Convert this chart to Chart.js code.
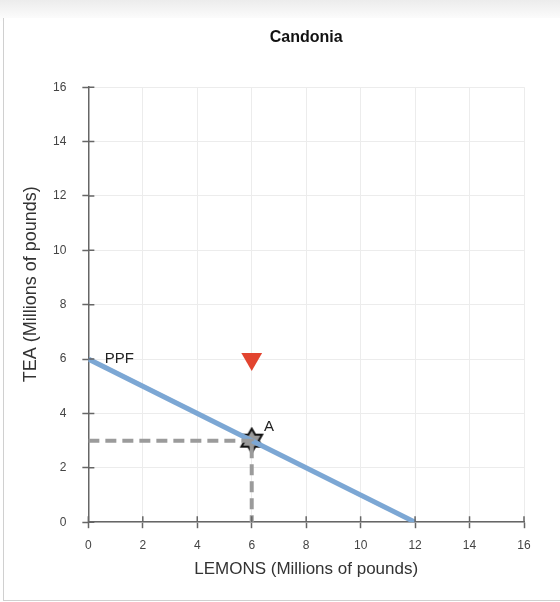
<!DOCTYPE html>
<html>
<head>
<meta charset="utf-8">
<script src="https://cdn.jsdelivr.net/npm/chart.js@4.4.1/dist/chart.umd.min.js"></script>
<style>
  body { margin: 0; background: #fff; }
  #frame {
    position: absolute; left: 0; top: 0; width: 560px; height: 602px;
    background: linear-gradient(#ececec, #fff 22px);
  }
  #card {
    position: absolute; left: 3px; top: 18px; width: 557px; height: 582px;
    background: #fff; border-left: 1px solid #d0d0d0; border-bottom: 1px solid #d0d0d0;
  }
  #wrap { position: absolute; left: 0; top: 0; width: 560px; height: 602px; }
</style>
</head>
<body>
<div id="frame"><div id="card"></div></div>
<div id="wrap"><canvas id="myChart"></canvas></div>
<script>
  const chartTitle = "Candonia"
  const xTitle = "LEMONS (Millions of pounds)"
  const yTitle = "TEA (Millions of pounds)"

  const xTicks = [0, 2, 4, 6, 8, 10, 12, 14, 16]
  const yTicks = [0, 2, 4, 6, 8, 10, 12, 14, 16]

  // production possibilities frontier
  const ppfX = [0, 12]
  const ppfY = [6, 0]

  // point A on the frontier and its guide lines
  const pointA = [6, 3]
  const guideX = [0, 6, 6]
  const guideY = [3, 3, 0]

  // red marker
  const markerPoint = [6, 6]

  const labels = [
    { text: "PPF", x: 0.6, y: 6 },
    { text: "A", x: 6.45, y: 3.5 },
  ]

  function makeStar() {
    let c = document.createElement("canvas")
    c.width = 28
    c.height = 28
    let g = c.getContext("2d")
    let cx = 14, cy = 14, R = 12, r = R / Math.sqrt(3)
    g.beginPath()
    for (let i = 0; i < 12; i++) {
      let ang = -Math.PI / 2 + i * Math.PI / 6
      let rad = i % 2 == 0 ? R : r
      let px = cx + rad * Math.cos(ang)
      let py = cy + rad * Math.sin(ang)
      if (i == 0) g.moveTo(px, py)
      else g.lineTo(px, py)
    }
    g.closePath()
    g.fillStyle = "#9a9a9a"
    g.fill()
    g.lineWidth = 2
    g.strokeStyle = "#111"
    g.stroke()
    return c
  }

  function toPoints(xs, ys) {
    let pts = []
    for (let i = 0; i < xs.length; i++) pts.push({ x: xs[i], y: ys[i] })
    return pts
  }

  const labelPlugin = {
    id: "labels",
    afterDatasetsDraw(chart) {
      let ctx = chart.ctx
      let xs = chart.scales.x
      let ys = chart.scales.y
      ctx.save()
      ctx.font = "15px Arial, 'Liberation Sans', sans-serif"
      ctx.fillStyle = "#222"
      ctx.textBaseline = "middle"
      labels.forEach(function (l) {
        ctx.fillText(l.text, xs.getPixelForValue(l.x), ys.getPixelForValue(l.y))
      })
      ctx.restore()
    },
    afterDraw(chart) {
      let ctx = chart.ctx
      let xs = chart.scales.x
      let ys = chart.scales.y
      let area = chart.chartArea
      ctx.save()
      // small tick marks on the inner side of the axes
      ctx.strokeStyle = "#666"
      ctx.lineWidth = 1.5
      ctx.beginPath()
      xTicks.forEach(function (v) {
        let px = xs.getPixelForValue(v)
        ctx.moveTo(px, area.bottom)
        ctx.lineTo(px, area.bottom - 6)
      })
      yTicks.forEach(function (v) {
        let py = ys.getPixelForValue(v)
        ctx.moveTo(area.left, py)
        ctx.lineTo(area.left + 6, py)
      })
      ctx.stroke()
      // y axis title, sits a bit above the middle of the axis
      ctx.translate(31, ys.getPixelForValue(8.75))
      ctx.rotate(-Math.PI / 2)
      ctx.font = "18px Arial, 'Liberation Sans', sans-serif"
      ctx.fillStyle = "#333"
      ctx.textAlign = "center"
      ctx.textBaseline = "middle"
      ctx.fillText(yTitle, 0, 0)
      ctx.restore()
    },
  }

  function drawChart() {
    const ctx = document.getElementById("myChart")
    const font = "Arial, 'Liberation Sans', sans-serif"

    new Chart(ctx, {
      type: "scatter",
      data: {
        datasets: [
          {
            data: toPoints(guideX, guideY),
            showLine: true,
            borderColor: "#9b9b9b",
            borderWidth: 4,
            borderDash: [11, 6],
            pointRadius: 0,
          },
          {
            data: toPoints(ppfX, ppfY),
            showLine: true,
            borderColor: "#7ca7d4",
            borderWidth: 5,
            pointRadius: 0,
          },
          {
            data: [{ x: pointA[0], y: pointA[1] }],
            pointStyle: makeStar(),
            pointRadius: 12,
          },
          {
            data: [{ x: markerPoint[0], y: markerPoint[1] }],
            pointStyle: "triangle",
            rotation: 180,
            pointRadius: 12,
            backgroundColor: "#e2442f",
            borderColor: "#e2442f",
            borderWidth: 0,
          },
        ],
      },
      options: {
        responsive: true,
        maintainAspectRatio: false,
        animation: false,
        layout: { padding: { left: 37, right: 36, top: 20, bottom: 18 } },
        plugins: {
          legend: { display: false },
          tooltip: { enabled: false },
          title: {
            display: true,
            text: chartTitle,
            fullSize: false,
            color: "#111",
            font: { family: font, size: 16, weight: "bold" },
            padding: { top: 8, bottom: 40 },
          },
        },
        scales: {
          x: {
            type: "linear",
            min: 0,
            max: 16,
            afterBuildTicks: function (s) { s.ticks = xTicks.map(function (v) { return { value: v } }) },
            grid: { color: "#ececec", tickColor: "#666", tickLength: 6, tickWidth: 1.5 },
            border: { color: "#666", width: 1.5 },
            ticks: { color: "#444", font: { family: font, size: 12 }, padding: 10, maxRotation: 0 },
            title: { display: true, text: xTitle, color: "#333", font: { family: font, size: 17 }, padding: { top: -3 } },
          },
          y: {
            type: "linear",
            min: 0,
            max: 16,
            afterBuildTicks: function (s) { s.ticks = yTicks.map(function (v) { return { value: v } }) },
            grid: { color: "#ececec", tickColor: "#666", tickLength: 6, tickWidth: 1.5 },
            border: { color: "#666", width: 1.5 },
            ticks: { color: "#444", font: { family: font, size: 12 }, padding: 16 },
            title: { display: false },
          },
        },
      },
      plugins: [labelPlugin],
    })
  }

  document.addEventListener("DOMContentLoaded", drawChart)
</script>
</body>
</html>
